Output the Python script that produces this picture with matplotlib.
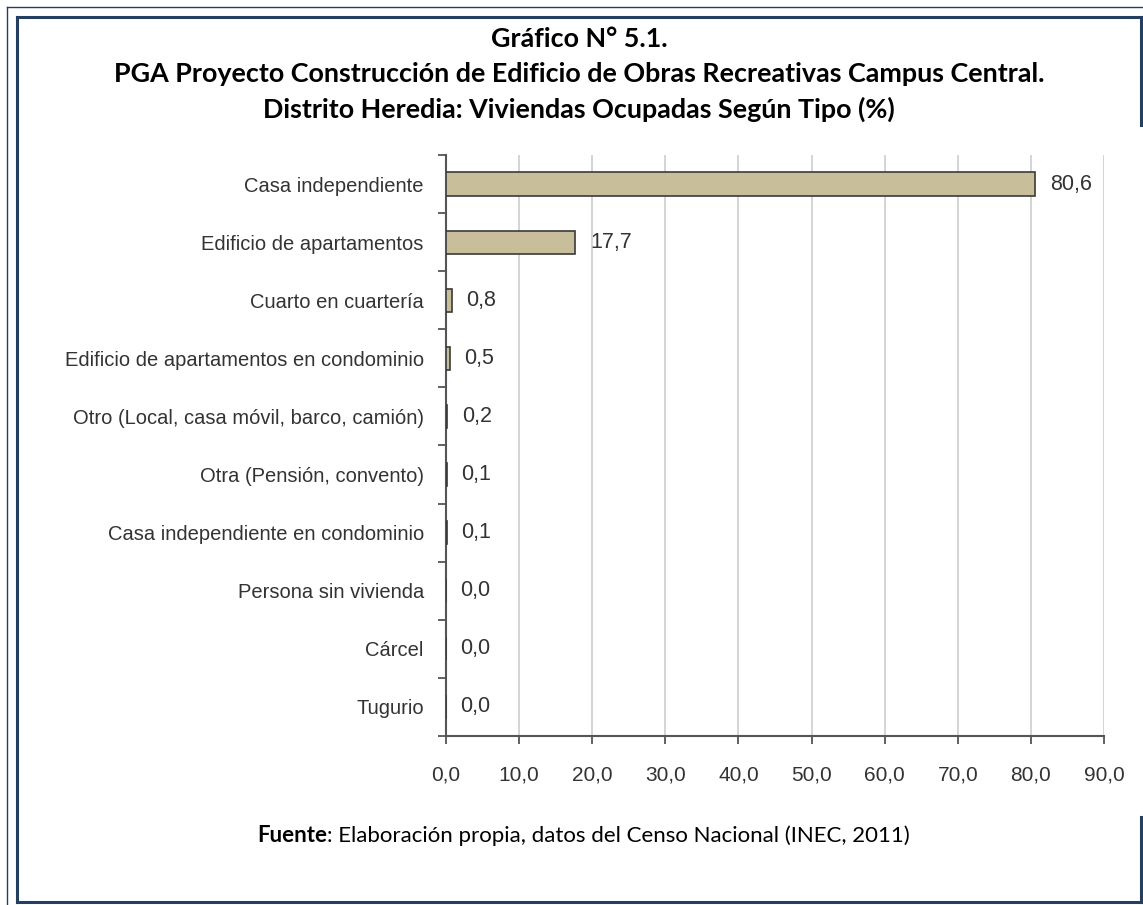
import numpy as np
import matplotlib
matplotlib.use("Agg")
from matplotlib import pyplot as plt
from matplotlib.lines import Line2D

# data
categories = ["Casa independiente", "Edificio de apartamentos", "Cuarto en cuartería",
              "Edificio de apartamentos en condominio", "Otro (Local, casa móvil, barco, camión)",
              "Otra (Pensión, convento)", "Casa independiente en condominio",
              "Persona sin vivienda", "Cárcel", "Tugurio"]
values = [80.6, 17.7, 0.8, 0.5, 0.2, 0.1, 0.1, 0.0, 0.0, 0.0]
xticks = np.arange(0, 91, 10)

title_lines = ["Gráfico N° 5.1.",
               "PGA Proyecto Construcción de Edificio de Obras Recreativas Campus Central.",
               "Distrito Heredia: Viviendas Ocupadas Según Tipo (%)"]

narrow = ["Liberation Sans", "DejaVu Sans"]
title_font = ["Lato", "DejaVu Sans"]

W, H = 1143.0, 905.0
fig = plt.figure(figsize=(W / 100, H / 100), dpi=100)
ax = fig.add_axes([446 / W, 1 - 736 / H, (1104 - 446) / W, (736 - 155) / H])

y = np.arange(len(categories))
ax.barh(y, values, height=0.4, color="#C8BF9A", edgecolor="#3a3a3a", linewidth=1.2, zorder=3)
ax.set_ylim(len(categories) - 0.5, -0.5)
ax.set_xlim(0, 90)

# value labels
for yi, v in zip(y, values):
    ax.text(v + 2.0, yi, f"{v:.1f}".replace(".", ","), va="center", ha="left",
            fontsize=15.5, color="#333333", family=narrow)

ax.set_yticks(y)
ax.set_yticklabels(categories, family=narrow, fontsize=14.5, color="#333333")
ax.tick_params(axis="y", length=0, pad=16)
# ticks between categories
ax.set_yticks(np.arange(-0.5, len(categories), 1), minor=True)
ax.tick_params(axis="y", which="minor", length=6, width=1.3, color="#555555", direction="out")

ax.set_xticks(xticks)
ax.set_xticklabels([f"{t:.1f}".replace(".", ",") for t in xticks], family=narrow,
                   fontsize=15, color="#333333")
ax.tick_params(axis="x", length=6, width=1.3, color="#555555", direction="out", pad=15)

ax.grid(axis="x", color="#d4d4d4", linewidth=1.4, zorder=0)
for s in ["top", "right"]:
    ax.spines[s].set_visible(False)
ax.spines["left"].set_color("#555555")
ax.spines["left"].set_linewidth(1.5)
ax.spines["bottom"].set_color("#555555")
ax.spines["bottom"].set_linewidth(1.5)

# titles (baselines in pixels from the top)
baselines = [47, 82, 118]
for line, b in zip(title_lines, baselines):
    fig.text(579 / W, 1 - b / H, line, ha="center", va="baseline", fontsize=19.4,
             fontweight="bold", family=title_font, color="black")

t1 = fig.text(257 / W, 1 - 842 / H, "Fuente", ha="left", va="baseline", fontsize=16,
              fontweight="bold", family=title_font)
fig.canvas.draw()
bb = t1.get_window_extent()
fig.text(bb.x1 / W, 1 - 842 / H, ": Elaboración propia, datos del Censo Nacional (INEC, 2011)",
         ha="left", va="baseline", fontsize=16, family=title_font)

# page frame
navy = "#243F60"
def fline(xs, ys, lw):
    fig.add_artist(Line2D(xs, ys, transform=fig.transFigure, color=navy, linewidth=lw))

fline([7 / W, 7 / W], [0, 1 - 7 / H], 1.0)
fline([7 / W, 1], [1 - 7 / H, 1 - 7 / H], 1.0)
fline([17 / W, 17 / W], [3 / H, 1 - 17 / H], 2.2)
fline([17 / W, 1141 / W], [1 - 17 / H, 1 - 17 / H], 2.2)
fline([1141 / W, 1141 / W], [1 - 17 / H, 1 - 125 / H], 2.2)
fline([1141 / W, 1141 / W], [1 - 817 / H, 3 / H], 2.2)
fline([17 / W, 1141 / W], [3 / H, 3 / H], 2.2)

fig.savefig("out.png", dpi=100)
